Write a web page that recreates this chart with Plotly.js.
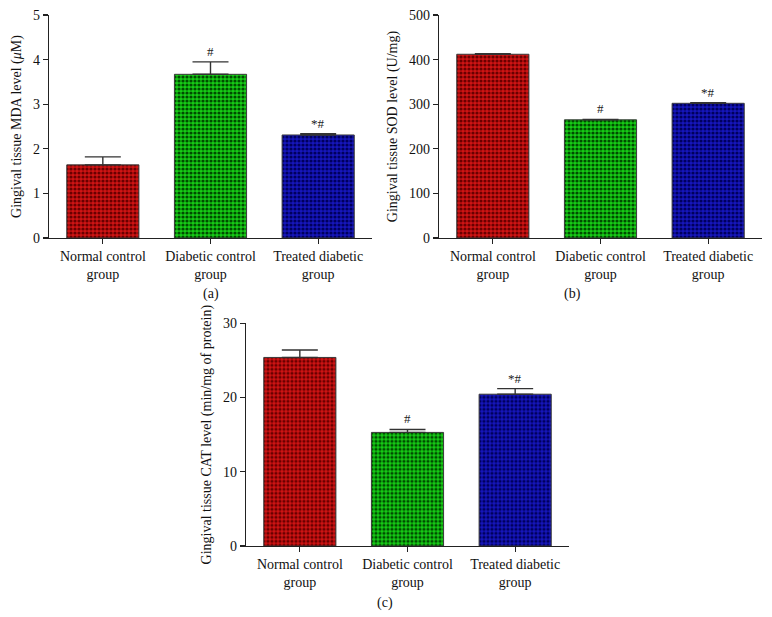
<!DOCTYPE html>
<html>
<head>
<meta charset="utf-8">
<script src="https://cdn.plot.ly/plotly-3.0.1.min.js"></script>
<style>html,body{margin:0;padding:0;background:#fff;}#chart{width:772px;height:617px;}</style>
</head>
<body>
<div id="chart"></div>
<script>
const categories = ["Normal control<br>group", "Diabetic control<br>group", "Treated diabetic<br>group"];
const mdaMeans = [1.64, 3.67, 2.31];
const mdaErrors = [0.18, 0.28, 0.03];
const mdaMarks = ["", "#", "*#"];
const sodMeans = [412, 265, 302];
const sodErrors = [1, 1, 1.5];
const sodMarks = ["", "#", "*#"];
const catMeans = [25.4, 15.3, 20.45];
const catErrors = [1.0, 0.4, 0.75];
const catMarks = ["", "#", "*#"];
const panelLabels = ["(a)", "(b)", "(c)"];
const yTitles = ["Gingival tissue MDA level (<i>μ</i>M)", "Gingival tissue SOD level (U/mg)", "Gingival tissue CAT level (min/mg of protein)"];

const brightColors = ["#d01414", "#16cc16", "#1616bc"];
const darkColors = ["#6a0000", "#004c00", "#00005e"];

const FONT = "Liberation Serif, Times New Roman, serif";

// one trace per bar so each bar gets its own scalar pattern colours
function barTraces(means, errs, xa, ya) {
  return categories.map((c, i) => ({
    type: "bar", x: [c], y: [means[i]], xaxis: xa, yaxis: ya,
    width: 0.67,
    marker: {
      color: brightColors[i],
      line: {color: "#3a3a3a", width: 1},
      pattern: {shape: ".", size: 4, solidity: 0.5, fgcolor: darkColors[i], bgcolor: brightColors[i], fgopacity: 1, fillmode: "replace"}
    },
    error_y: {type: "data", array: [errs[i]], arrayminus: [0], symmetric: false, visible: true, color: "#333", thickness: 1.4, width: 18},
    showlegend: false, hoverinfo: "skip"
  }));
}

const data = [].concat(
  barTraces(mdaMeans, mdaErrors, "x", "y"),
  barTraces(sodMeans, sodErrors, "x2", "y2"),
  barTraces(catMeans, catErrors, "x3", "y3")
);

function xAx(domain, anchor) {
  return {
    domain: domain, anchor: anchor, type: "category", range: [-0.5, 2.5],
    categoryorder: "array", categoryarray: categories,
    showline: true, linecolor: "#222", linewidth: 1.2, ticks: "outside", ticklen: 5, tickcolor: "#222", tickwidth: 1.2,
    showgrid: false, zeroline: false, fixedrange: true,
    tickfont: {family: FONT, size: 14, color: "#111"}
  };
}
function yAx(domain, anchor, range, dtick, title) {
  return {
    domain: domain, anchor: anchor, range: range, dtick: dtick,
    showline: true, linecolor: "#222", linewidth: 1.2, ticks: "outside", ticklen: 5, tickcolor: "#222", tickwidth: 1.2,
    showgrid: false, zeroline: false, fixedrange: true,
    tickfont: {family: FONT, size: 14, color: "#111"},
    title: {text: title, font: {family: FONT, size: 14, color: "#111"}, standoff: 8}
  };
}

const H = 617, W = 772;
const domA_x = [49 / W, 372 / W], domA_y = [1 - 238 / H, 1 - 15 / H];
const domB_x = [439 / W, 762 / W];
const domC_x = [246 / W, 569 / W], domC_y = [1 - 546 / H, 1 - 323.3 / H];

const annotations = [];
function addMarks(means, errs, marks, xref, yref) {
  marks.forEach((m, i) => {
    if (!m) return;
    annotations.push({x: categories[i], y: means[i] + errs[i], xref: xref, yref: yref, text: m, showarrow: false,
      yanchor: "bottom", yshift: 1, font: {family: FONT, size: 13, color: "#222"}});
  });
}
addMarks(mdaMeans, mdaErrors, mdaMarks, "x", "y");
addMarks(sodMeans, sodErrors, sodMarks, "x2", "y2");
addMarks(catMeans, catErrors, catMarks, "x3", "y3");

const labelPos = [[211, 294], [572, 294], [385, 603]];
panelLabels.forEach((t, i) => {
  annotations.push({x: labelPos[i][0] / W, y: 1 - labelPos[i][1] / H, xref: "paper", yref: "paper", text: t, showarrow: false,
    xanchor: "center", yanchor: "middle", font: {family: FONT, size: 14, color: "#111"}});
});

const layout = {
  width: W, height: H, margin: {l: 0, r: 0, t: 0, b: 0},
  paper_bgcolor: "#fff", plot_bgcolor: "rgba(0,0,0,0)",
  barmode: "overlay",
  xaxis: xAx(domA_x, "y"), yaxis: yAx(domA_y, "x", [0, 5], 1, yTitles[0]),
  xaxis2: xAx(domB_x, "y2"), yaxis2: yAx(domA_y, "x2", [0, 500], 100, yTitles[1]),
  xaxis3: xAx(domC_x, "y3"), yaxis3: yAx(domC_y, "x3", [0, 30], 10, yTitles[2]),
  annotations: annotations
};

Plotly.newPlot("chart", data, layout, {displayModeBar: false, staticPlot: true});
</script>
</body>
</html>
